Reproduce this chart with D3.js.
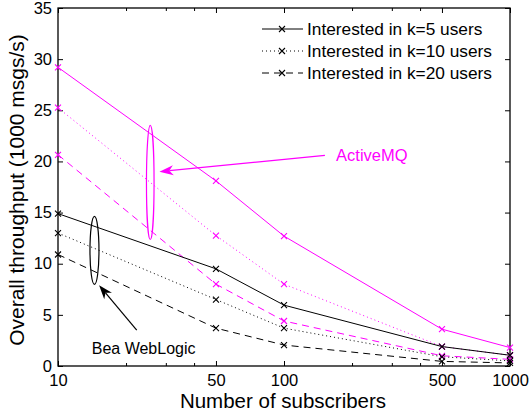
<!DOCTYPE html>
<html>
<head>
<meta charset="utf-8">
<script src="https://cdn.jsdelivr.net/npm/d3@7"></script>
<style>
  body { margin: 0; background: #fff; }
  text { font-family: "Liberation Sans", Arial, Helvetica, sans-serif; fill: #000; }
</style>
</head>
<body>
<div id="chart"></div>
<script>
var svgWidth = 531;
var svgHeight = 417;

var margin = { top: 8, right: 21, bottom: 51, left: 58 };
var width = svgWidth - margin.left - margin.right;
var height = svgHeight - margin.top - margin.bottom;

// data
var subscribers = [10, 50, 100, 500, 1000];
var activeK5 = [29.2, 18.1, 12.7, 3.6, 1.8];
var activeK10 = [25.25, 12.75, 8.0, 1.9, 1.05];
var activeK20 = [20.65, 8.0, 4.4, 1.0, 0.65];
var beaK5 = [14.9, 9.5, 5.95, 1.9, 1.05];
var beaK10 = [13.0, 6.5, 3.7, 0.9, 0.5];
var beaK20 = [10.9, 3.7, 2.05, 0.45, 0.3];

var xTicks = [10, 50, 100, 500, 1000];
var xMinorTicks = [20, 30, 40, 200, 300, 400];
var yTicks = [0, 5, 10, 15, 20, 25, 30, 35];
var legendLabels = ["Interested in k=5 users", "Interested in k=10 users", "Interested in k=20 users"];

var magenta = "#ff00ff";
var dashes = { solid: null, dotted: "1,3", dashed: "7,5" };

var series = [
  { values: activeK5, color: magenta, dash: dashes.solid },
  { values: activeK10, color: magenta, dash: dashes.dotted },
  { values: activeK20, color: magenta, dash: dashes.dashed },
  { values: beaK5, color: "#000", dash: dashes.solid },
  { values: beaK10, color: "#000", dash: dashes.dotted },
  { values: beaK20, color: "#000", dash: dashes.dashed }
];

var svg = d3.select("#chart")
  .append("svg")
  .attr("width", svgWidth)
  .attr("height", svgHeight);

var chartGroup = svg.append("g")
  .attr("transform", `translate(${margin.left}, ${margin.top})`);

var xScale = d3.scaleLog().domain([10, 1000]).range([0, width]);
var yScale = d3.scaleLinear().domain([0, 35]).range([height, 0]);

// axes, ticks pointing inward, on all four sides
function styleAxis(g) {
  g.select(".domain").remove();
  g.selectAll("line").attr("stroke", "#000");
  g.selectAll("text").style("font-size", "16.5px");
}

var tickLen = 5;
chartGroup.append("g")
  .attr("transform", `translate(0, ${height})`)
  .call(d3.axisBottom(xScale).tickValues(xTicks).tickFormat(d3.format("d"))
    .tickSizeInner(-tickLen).tickSizeOuter(0).tickPadding(8))
  .call(styleAxis);
chartGroup.append("g")
  .attr("transform", `translate(0, ${height})`)
  .call(d3.axisBottom(xScale).tickValues(xMinorTicks).tickFormat("")
    .tickSizeInner(-3).tickSizeOuter(0))
  .call(styleAxis);
chartGroup.append("g")
  .call(d3.axisTop(xScale).tickValues(xTicks).tickFormat("")
    .tickSizeInner(-tickLen).tickSizeOuter(0))
  .call(styleAxis);
chartGroup.append("g")
  .call(d3.axisTop(xScale).tickValues(xMinorTicks).tickFormat("")
    .tickSizeInner(-3).tickSizeOuter(0))
  .call(styleAxis);
chartGroup.append("g")
  .call(d3.axisLeft(yScale).tickValues(yTicks)
    .tickSizeInner(-tickLen).tickSizeOuter(0).tickPadding(6))
  .call(styleAxis);
chartGroup.append("g")
  .attr("transform", `translate(${width}, 0)`)
  .call(d3.axisRight(yScale).tickValues(yTicks).tickFormat("")
    .tickSizeInner(-tickLen).tickSizeOuter(0))
  .call(styleAxis);

chartGroup.append("rect")
  .attr("width", width)
  .attr("height", height)
  .attr("fill", "none")
  .attr("stroke", "#000")
  .attr("stroke-width", 1.3);

// lines
var line = d3.line()
  .x(d => xScale(d.x))
  .y(d => yScale(d.y));

function drawX(g, cx, cy, color) {
  var s = 3;
  g.append("path")
    .attr("d", `M${cx - s},${cy - s}L${cx + s},${cy + s}M${cx - s},${cy + s}L${cx + s},${cy - s}`)
    .attr("stroke", color)
    .attr("stroke-width", 1.1)
    .attr("fill", "none");
}

series.forEach(function(s) {
  var pts = subscribers.map((x, i) => ({ x: x, y: s.values[i] }));
  chartGroup.append("path")
    .datum(pts)
    .attr("d", line)
    .attr("fill", "none")
    .attr("stroke", s.color)
    .attr("stroke-width", 1)
    .attr("stroke-dasharray", s.dash);
  pts.forEach(p => drawX(chartGroup, xScale(p.x), yScale(p.y), s.color));
});

// legend
var legend = svg.append("g");
legendLabels.forEach(function(label, i) {
  var y = 29 + i * 22;
  legend.append("line")
    .attr("x1", 262).attr("x2", 303)
    .attr("y1", y).attr("y2", y)
    .attr("stroke", "#000")
    .attr("stroke-width", 1)
    .attr("stroke-dasharray", [dashes.solid, dashes.dotted, dashes.dashed][i]);
  drawX(legend, 282, y, "#000");
  legend.append("text")
    .attr("x", 307)
    .attr("y", y)
    .attr("dy", "0.36em")
    .style("font-size", "17.3px")
    .text(label);
});

// annotations, placed in data coordinates
function arrow(g, x1, y1, x2, y2, color) {
  var px1 = xScale(x1), py1 = yScale(y1), px2 = xScale(x2), py2 = yScale(y2);
  var ang = Math.atan2(py2 - py1, px2 - px1);
  var len = 14, half = 5, notch = 10;
  var ux = Math.cos(ang), uy = Math.sin(ang);
  var bx = px2 - ux * len, by = py2 - uy * len;
  var nx = px2 - ux * notch, ny = py2 - uy * notch;
  g.append("line")
    .attr("x1", px1).attr("y1", py1)
    .attr("x2", nx).attr("y2", ny)
    .attr("stroke", color).attr("stroke-width", 1.2);
  g.append("path")
    .attr("d", `M${px2},${py2}L${bx - uy * half},${by + ux * half}L${nx},${ny}L${bx + uy * half},${by - ux * half}Z`)
    .attr("fill", color);
}

function ellipse(g, x, y, rx, ry, color) {
  g.append("ellipse")
    .attr("cx", xScale(x)).attr("cy", yScale(y))
    .attr("rx", rx).attr("ry", ry)
    .attr("fill", "none")
    .attr("stroke", color)
    .attr("stroke-width", 1.2);
}

ellipse(chartGroup, 25.6, 17.95, 3.8, 57, magenta);
arrow(chartGroup, 151.7, 20.6, 28.1, 19.0, magenta);
chartGroup.append("text")
  .attr("x", xScale(170))
  .attr("y", yScale(20.65))
  .attr("dy", "0.36em")
  .style("font-size", "16.5px")
  .style("fill", magenta)
  .text("ActiveMQ");

ellipse(chartGroup, 14.5, 11.3, 4.5, 34, "#000");
arrow(chartGroup, 22.3, 3.5, 15.2, 7.9, "#000");
chartGroup.append("text")
  .attr("x", xScale(14.1))
  .attr("y", yScale(1.17))
  .style("font-size", "16px")
  .text("Bea WebLogic");

// axis titles
svg.append("text")
  .attr("x", margin.left + width / 2 - 1)
  .attr("y", 408)
  .attr("text-anchor", "middle")
  .style("font-size", "20.5px")
  .text("Number of subscribers");

svg.append("text")
  .attr("transform", "translate(24, 190) rotate(-90)")
  .attr("text-anchor", "middle")
  .style("font-size", "21px")
  .text("Overall throughput (1000 msgs/s)");
</script>
</body>
</html>
